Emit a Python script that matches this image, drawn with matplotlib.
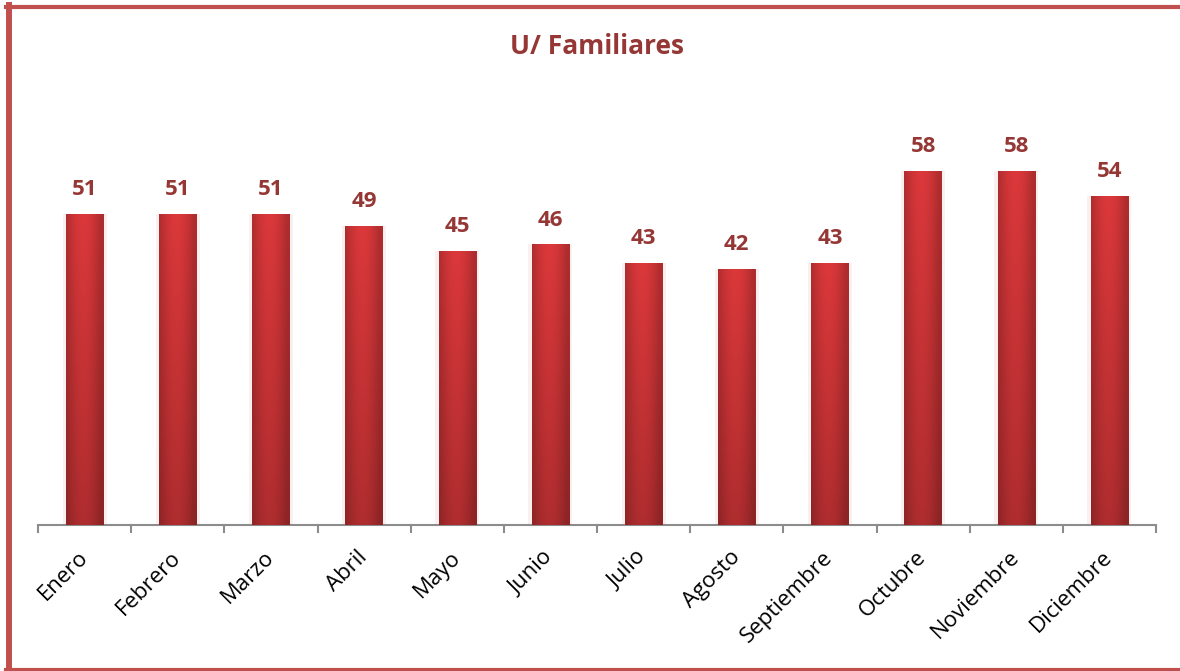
import matplotlib
matplotlib.use("Agg")
import matplotlib.pyplot as plt
import numpy as np
from matplotlib.lines import Line2D

months = ["Enero", "Febrero", "Marzo", "Abril", "Mayo", "Junio", "Julio",
          "Agosto", "Septiembre", "Octubre", "Noviembre", "Diciembre"]
values = [51, 51, 51, 49, 45, 46, 43, 42, 43, 58, 58, 54]
title = "U/ Familiares"

W, H = 1180, 671
fig = plt.figure(figsize=(W / 100, H / 100), dpi=100)
fig.patch.set_facecolor("white")
ax = fig.add_axes([38 / W, (H - 525) / H, (1156 - 38) / W, (525 - 98) / H])

x = np.arange(len(months))
bars = ax.bar(x, values, width=0.4, color="#C8302F", edgecolor="none", zorder=2)

# gradient fill for bars
hx = np.linspace(0, 1, 64)
hprof = 0.80 + 0.20 * np.sin(np.pi * np.clip(hx * 1.08, 0, 1))
vy = np.linspace(0, 1, 64)[:, None]
shade = hprof[None, :] * (0.80 + 0.20 * vy)
base = np.array([0.86, 0.22, 0.23])
img = np.clip(shade[..., None] * base[None, None, :], 0, 1)
for b in bars:
    bx, by, bw, bh = b.get_x(), b.get_y(), b.get_width(), b.get_height()
    ax.bar(bx + bw / 2, bh, width=bw * 1.18, color="#F6D4D4", alpha=0.35,
           edgecolor="none", zorder=1)
    im = ax.imshow(img, extent=[bx, bx + bw, by, by + bh], origin="lower",
                   aspect="auto", zorder=3, interpolation="bilinear")
    im.set_clip_path(b)

for xi, v in zip(x, values):
    ax.annotate(str(v), (xi, v), xytext=(0, 10), textcoords="offset points",
                ha="center", va="bottom", fontsize=16, fontweight="bold",
                color="#953735", family="Open Sans", zorder=4)

ax.set_xlim(-0.5, len(months) - 0.5)
ax.set_ylim(0, 70)
ax.set_yticks([])
for s in ["top", "right", "left"]:
    ax.spines[s].set_visible(False)
ax.spines["bottom"].set_color("#8C8C8C")
ax.spines["bottom"].set_linewidth(1.5)

ax.set_xticks(x)
ax.set_xticklabels(months, rotation=45, ha="right", va="center",
                   rotation_mode="anchor", fontsize=16, family="Open Sans")
ax.tick_params(axis="x", which="major", length=0, pad=21)
ax.set_xticks(np.arange(-0.5, len(months)), minor=True)
ax.tick_params(axis="x", which="minor", length=6, width=1.5, color="#8C8C8C",
               direction="out")

fig.text(597 / W, 1 - 46 / H, title, ha="center", va="center", fontsize=19,
         fontweight="bold", color="#953735", family="Open Sans")

border = "#C0504D"
fig.add_artist(Line2D([9 / W, 9 / W], [0, 1 - 5 / H], transform=fig.transFigure,
                      color=border, lw=4.3))
fig.add_artist(Line2D([6 / W, 1], [1 - 7 / H, 1 - 7 / H], transform=fig.transFigure,
                      color=border, lw=3))
fig.add_artist(Line2D([6 / W, 1], [1.5 / H, 1.5 / H], transform=fig.transFigure,
                      color=border, lw=3))

fig.savefig("out.png", dpi=100)
